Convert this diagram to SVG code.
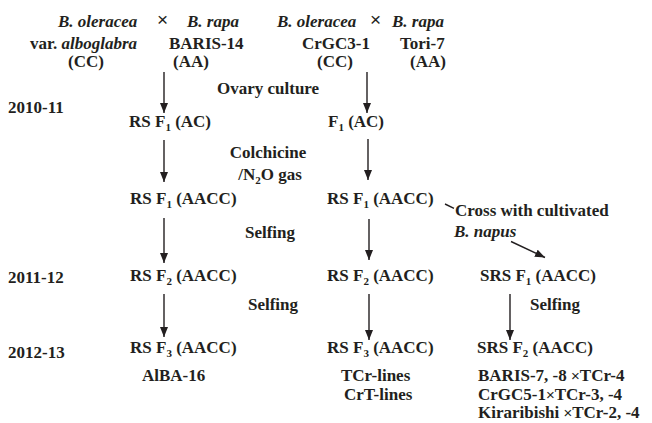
<svg xmlns="http://www.w3.org/2000/svg" width="652" height="423" viewBox="0 0 652 423">
<defs>
<style>
.t{font-family:"Liberation Serif","Times New Roman",serif;font-weight:bold;font-size:17px;fill:#231f20}
.i{font-style:italic}
.s{font-size:11px}
.x{font-family:"Liberation Sans",Arial,sans-serif;font-weight:normal;font-size:19px;fill:#231f20}
.xs{font-family:"Liberation Sans",Arial,sans-serif;font-weight:normal;font-size:15px}
.c{stroke:#231f20;stroke-width:1.4;fill:none}
</style>
<marker id="ah" markerUnits="userSpaceOnUse" markerWidth="11" markerHeight="9" refX="10" refY="4" orient="auto">
<path d="M0,0 L10,4 L0,8 z" fill="#231f20"/>
</marker>
</defs>
<rect width="652" height="423" fill="#fff"/>

<g id="connectors">
<line class="c" x1="164" y1="72" x2="164" y2="113" marker-end="url(#ah)"/>
<line class="c" x1="164" y1="140" x2="164" y2="182" marker-end="url(#ah)"/>
<line class="c" x1="164" y1="218" x2="164" y2="263" marker-end="url(#ah)"/>
<line class="c" x1="164" y1="294" x2="164" y2="337" marker-end="url(#ah)"/>
<line class="c" x1="367" y1="72" x2="367" y2="113" marker-end="url(#ah)"/>
<line class="c" x1="368" y1="139" x2="368" y2="180" marker-end="url(#ah)"/>
<line class="c" x1="369" y1="219" x2="369" y2="260" marker-end="url(#ah)"/>
<line class="c" x1="369" y1="294" x2="369" y2="340" marker-end="url(#ah)"/>
<line class="c" x1="510" y1="294" x2="510" y2="340" marker-end="url(#ah)"/>
<path class="c" d="M445,204 L454,208.3 M511,241.5 L545,257.5" marker-end="url(#ah)"/>
</g>

<g id="parents1">
<text class="t i" x="58" y="27">B. oleracea</text>
<text class="x" x="157" y="26">×</text>
<text class="t i" x="187" y="27">B. rapa</text>
<text class="t" x="30" y="49">var. <tspan class="i">alboglabra</tspan></text>
<text class="t" x="169" y="49">BARIS-14</text>
<text class="t" x="68" y="67">(CC)</text>
<text class="t" x="173" y="67">(AA)</text>
</g>

<g id="parents2">
<text class="t i" x="277" y="27">B. oleracea</text>
<text class="x" x="370" y="26">×</text>
<text class="t i" x="392" y="27">B. rapa</text>
<text class="t" x="302" y="49">CrGC3-1</text>
<text class="t" x="400" y="49">Tori-7</text>
<text class="t" x="317" y="67">(CC)</text>
<text class="t" x="410" y="67">(AA)</text>
</g>

<g id="years">
<text class="t" x="8" y="113">2010-11</text>
<text class="t" x="8" y="283">2011-12</text>
<text class="t" x="8" y="358">2012-13</text>
</g>

<g id="steps">
<text class="t" x="217" y="94">Ovary culture</text>
<text class="t" x="268" y="158" text-anchor="middle">Colchicine</text>
<text class="t" x="270" y="180" text-anchor="middle">/N<tspan class="s" dy="4">2</tspan><tspan dy="-4">O gas</tspan></text>
<text class="t" x="270" y="238" text-anchor="middle">Selfing</text>
<text class="t" x="273" y="310" text-anchor="middle">Selfing</text>
<text class="t" x="555" y="310" text-anchor="middle">Selfing</text>
<text class="t" x="455" y="216">Cross with cultivated</text>
<text class="t i" x="454" y="237">B. napus</text>
</g>

<g id="col1">
<text class="t" x="129" y="127">RS F<tspan class="s" dy="4">1</tspan><tspan dy="-4"> (AC)</tspan></text>
<text class="t" x="130" y="204">RS F<tspan class="s" dy="4">1</tspan><tspan dy="-4"> (AACC)</tspan></text>
<text class="t" x="130" y="281">RS F<tspan class="s" dy="4">2</tspan><tspan dy="-4"> (AACC)</tspan></text>
<text class="t" x="130" y="353">RS F<tspan class="s" dy="4">3</tspan><tspan dy="-4"> (AACC)</tspan></text>
<text class="t" x="142" y="381">AlBA-16</text>
</g>

<g id="col2">
<text class="t" x="328" y="127">F<tspan class="s" dy="4">1</tspan><tspan dy="-4"> (AC)</tspan></text>
<text class="t" x="327" y="204">RS F<tspan class="s" dy="4">1</tspan><tspan dy="-4"> (AACC)</tspan></text>
<text class="t" x="327" y="281">RS F<tspan class="s" dy="4">2</tspan><tspan dy="-4"> (AACC)</tspan></text>
<text class="t" x="327" y="353">RS F<tspan class="s" dy="4">3</tspan><tspan dy="-4"> (AACC)</tspan></text>
<text class="t" x="341" y="381">TCr-lines</text>
<text class="t" x="344" y="400">CrT-lines</text>
</g>

<g id="col3">
<text class="t" x="480" y="281">SRS F<tspan class="s" dy="4">1</tspan><tspan dy="-4"> (AACC)</tspan></text>
<text class="t" x="477" y="353">SRS F<tspan class="s" dy="4">2</tspan><tspan dy="-4"> (AACC)</tspan></text>
<text class="t" x="478" y="381">BARIS-7, -8 <tspan class="xs">×</tspan>TCr-4</text>
<text class="t" x="478" y="400">CrGC5-1<tspan class="xs">×</tspan>TCr-3, -4</text>
<text class="t" x="478" y="418">Kiraribishi <tspan class="xs">×</tspan>TCr-2, -4</text>
</g>
</svg>
